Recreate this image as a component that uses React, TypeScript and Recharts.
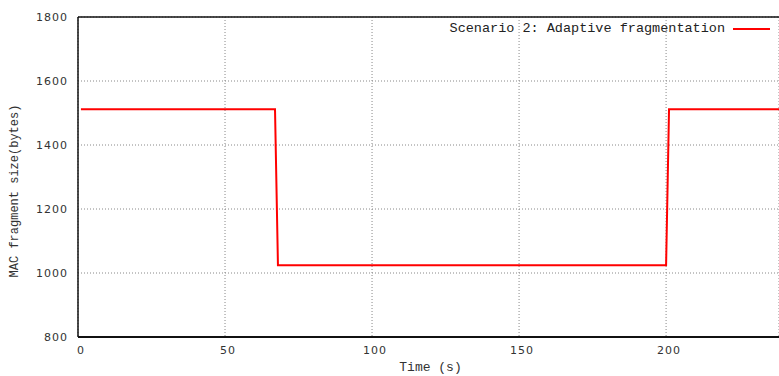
import React from "react";
import { LineChart, Line, XAxis, YAxis, CartesianGrid, ReferenceLine } from "recharts";

// step trace
const times = [1, 67, 68, 200, 201, 240];
const fragSize = [1512, 1512, 1024, 1024, 1512, 1512];
const xTicks = [0, 50, 100, 150, 200];
const yTicks = [800, 1000, 1200, 1400, 1600, 1800];
const seriesName = "Scenario 2: Adaptive fragmentation";

const data = times.map((t, i) => ({ time: t, size: fragSize[i] }));

const mono = "'Liberation Mono', 'DejaVu Sans Mono', monospace";
const sans = "'DejaVu Sans', sans-serif";

const App: React.FC = () => {
  return (
    <div style={{ position: "absolute", left: 0, top: 0, width: 779, height: 376, background: "#fff" }}>
      <LineChart width={779} height={376} data={data} margin={{ top: 17, right: 0, left: 8, bottom: 0 }}>
        <CartesianGrid stroke="#888" strokeDasharray="1 2" />
        <XAxis
          dataKey="time"
          type="number"
          domain={[0, 238.4]}
          allowDataOverflow
          ticks={xTicks}
          height={39}
          tickLine={false}
          tickMargin={3}
          axisLine={{ stroke: "#111", strokeWidth: 2 }}
          tick={{ fontFamily: sans, fontSize: 11, fill: "#333", letterSpacing: 1, dx: 3 }}
          label={{
            value: "Time (s)",
            position: "insideBottom",
            offset: 5,
            dx: 2,
            style: { fontFamily: mono, fontSize: 13, fill: "#333" },
          }}
        />
        <YAxis
          type="number"
          domain={[800, 1800]}
          ticks={yTicks}
          width={70}
          tickLine={false}
          tickMargin={4}
          axisLine={{ stroke: "#111", strokeWidth: 1.5 }}
          tick={{ fontFamily: sans, fontSize: 11, fill: "#333", letterSpacing: 1 }}
          label={{
            value: "MAC fragment size(bytes)",
            angle: -90,
            position: "insideLeft",
            offset: 0,
            dx: 6,
            dy: 14,
            style: { fontFamily: mono, fontSize: 12, fill: "#333", textAnchor: "middle" },
          }}
        />
        <ReferenceLine y={1800} stroke="#111" strokeWidth={1.5} />
        <Line
          type="linear"
          dataKey="size"
          name={seriesName}
          stroke="#ff0000"
          strokeWidth={2}
          dot={false}
          isAnimationActive={false}
        />
      </LineChart>
      <div
        style={{
          position: "absolute",
          top: 20,
          right: 9,
          display: "flex",
          alignItems: "center",
          fontFamily: mono,
          fontSize: 13.5,
          color: "#222",
          lineHeight: "18px",
        }}
      >
        <span>{seriesName}</span>
        <span style={{ display: "inline-block", width: 37, height: 2, background: "#ff0000", marginLeft: 8 }} />
      </div>
    </div>
  );
};

export default App;
